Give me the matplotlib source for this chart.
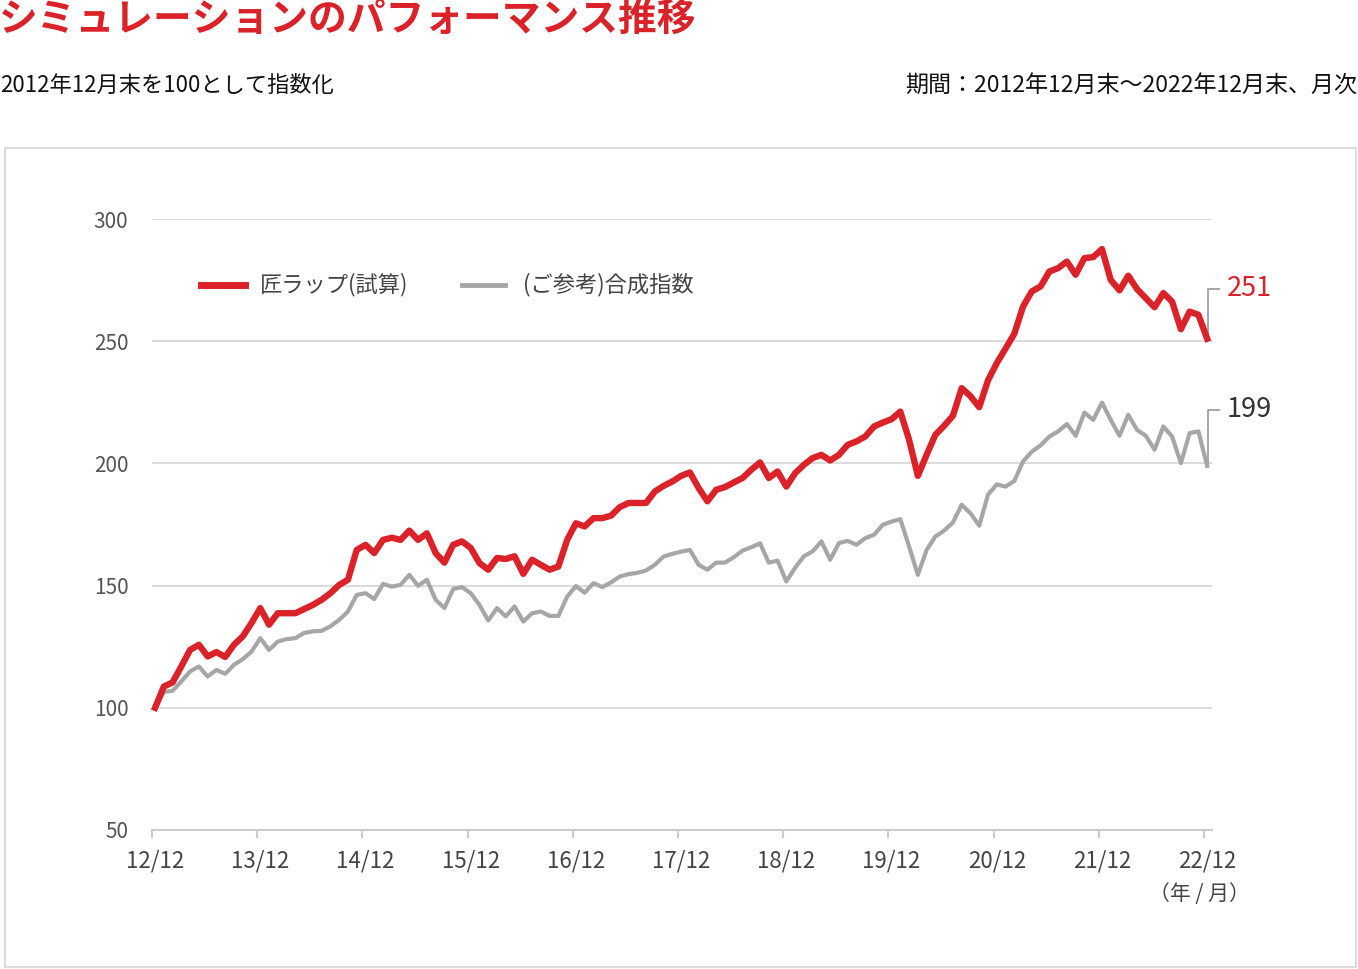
import matplotlib
matplotlib.use('Agg')
import matplotlib.pyplot as plt
from matplotlib.lines import Line2D
from matplotlib.patches import Rectangle
import numpy as np

# ---------------- data ----------------
title = "シミュレーションのパフォーマンス推移"
subtitle_left = "2012年12月末を100として指数化"
subtitle_right = "期間：2012年12月末〜2022年12月末、月次"
series_names = ["匠ラップ(試算)", "(ご参考)合成指数"]
x_tick_labels = ["12/12", "13/12", "14/12", "15/12", "16/12", "17/12",
                 "18/12", "19/12", "20/12", "21/12", "22/12"]
x_unit_label = "（年 / 月）"
y_ticks = [50, 100, 150, 200, 250, 300]

# monthly index values, 2012/12 .. 2022/12
takumi = [
    100, 108.7, 110.4, 117, 123.7, 125.8, 121, 122.8, 120.8, 125.8,
    129.2, 134.7, 140.8, 134, 138.7, 138.7, 138.7, 140.4, 142.1, 144.2,
    146.9, 150.3, 152.4, 164.6, 166.7, 163.3, 168.7, 169.6, 168.7, 172.5,
    168.7, 171.4, 163.3, 159.4, 166.7, 168.1, 165.4, 159.2, 156.5, 161.3,
    160.9, 162, 154.8, 160.6, 158.5, 156.5, 157.8, 168.7, 175.5, 174.2,
    177.6, 177.6, 178.6, 182.1, 183.8, 183.8, 183.8, 188.5, 190.8, 192.6,
    194.9, 196.3, 189.9, 184.5, 189.2, 190.3, 192.2, 194, 197.4, 200.4,
    194, 196.7, 190.5, 196, 199.4, 202.2, 203.5, 201.2, 203.5, 207.6,
    209, 211, 215.1, 216.7, 218.1, 221.2, 209.7, 194.9, 203.5, 211.7,
    215.4, 219.5, 230.8, 227.5, 223, 234, 241, 247, 253, 264.2,
    270.4, 272.4, 278.5, 279.9, 282.6, 277.2, 284, 284.4, 287.7, 275.1,
    270.8, 276.8, 271.3, 267.6, 263.9, 269.7, 266.2, 254.9, 262.1, 260.8,
    251]

composite = [
    100, 106.5, 107, 110.8, 114.9, 116.9, 112.8, 115.5, 113.9, 117.6,
    119.9, 123, 128.5, 123.7, 127.1, 128.1, 128.5, 130.6, 131.3, 131.5,
    133.3, 136, 139.4, 146.2, 146.9, 144.5, 150.7, 149.6, 150.3, 154.4,
    149.9, 152.4, 144.2, 140.8, 148.6, 149.4, 146.9, 142.1, 135.7, 140.8,
    137.4, 141.5, 135.3, 138.7, 139.4, 137.6, 137.6, 145.5, 149.8, 147.1,
    151, 149.4, 151.3, 153.7, 154.7, 155.2, 156.2, 158.5, 161.9, 163,
    163.9, 164.6, 158.5, 156.5, 159.4, 159.4, 161.6, 164.3, 165.7, 167.3,
    159.4, 160.2, 151.7, 157.3, 162, 164, 168.1, 160.6, 167.4, 168.3,
    166.7, 169.4, 170.8, 174.9, 176.2, 177.2, 166, 154.4, 164.6, 170.1,
    172.5, 175.8, 183.1, 179.6, 174.5, 187.2, 191.4, 190.5, 192.8, 200.8,
    204.8, 207.4, 211, 213.1, 216.1, 211.3, 220.8, 217.8, 224.9, 217.8,
    211.3, 219.9, 213.7, 211.3, 205.6, 215.1, 211, 200.1, 212.4, 213.1,
    199]

end_labels = ["251", "199"]

# ---------------- style ----------------
RED = '#db2229'
GRAY = '#a6a6a6'
plt.rcParams['font.family'] = ['Noto Sans CJK JP', 'DejaVu Sans']

W, H = 1358, 969
fig = plt.figure(figsize=(W / 100, H / 100), dpi=100)
fig.patch.set_facecolor('white')


def fx(px):
    return px / W


def fy(py):
    return 1 - py / H


# outer frame
fig.add_artist(Rectangle((fx(5), fy(967)), fx(1356) - fx(5), fy(148) - fy(967),
                         transform=fig.transFigure, fill=False,
                         ec='#dcdcdc', lw=1.5))

ax = fig.add_axes([fx(152), fy(830), fx(1212) - fx(152), fy(219) - fy(830)])
months = np.arange(len(takumi))
ax.set_xlim(-0.34, 120.55)
ax.set_ylim(50, 300)

for s in ['top', 'right', 'left']:
    ax.spines[s].set_visible(False)
ax.spines['bottom'].set_color('#cccccc')
ax.spines['bottom'].set_linewidth(1.5)

ax.set_yticks(y_ticks)
ax.set_yticklabels([str(v) for v in y_ticks])
ax.yaxis.grid(True, color='#d9d9d9', lw=1.3)
ax.set_axisbelow(True)
ax.tick_params(axis='y', length=0, pad=17, labelsize=15, labelcolor='#555555')

label_pos = [12 * k for k in range(len(x_tick_labels))]
ax.set_xticks(label_pos)
ax.set_xticklabels(x_tick_labels)
ax.set_xticks([p - 0.35 for p in label_pos], minor=True)
ax.tick_params(axis='x', which='major', length=0, pad=14, labelsize=16,
               labelcolor='#444444')
ax.tick_params(axis='x', which='minor', length=6, width=1.5, color='#cccccc',
               direction='out')

ax.plot(months, composite, color=GRAY, lw=3.0, solid_joinstyle='round',
        zorder=3, clip_on=False)
ax.plot(months, takumi, color=RED, lw=4.6, solid_joinstyle='round',
        zorder=4, clip_on=False)

# end-value brackets and labels
x_end = months[-1] + 0.07
for vals, txt, col, off in [(takumi, end_labels[0], RED, 20.5),
                            (composite, end_labels[1], '#333333', 23.0)]:
    v = vals[-1]
    ax.plot([x_end, x_end, x_end + 1.25], [v, v + off, v + off],
            color='#a0a0a0', lw=1.3, clip_on=False, zorder=2)
    ax.text(x_end + 2.2, v + off, txt, color=col, fontsize=19.5,
            va='center', ha='left')

# legend (manual)
fig.add_artist(Line2D([fx(201), fx(245)], [fy(285), fy(285)], color=RED,
                      lw=5, transform=fig.transFigure))
fig.text(fx(260), fy(285), series_names[0], fontsize=16, color='#444444',
         va='center', ha='left')
fig.add_artist(Line2D([fx(462), fx(505)], [fy(285), fy(285)], color=GRAY,
                      lw=3.5, transform=fig.transFigure))
fig.text(fx(523), fy(285), series_names[1], fontsize=16, color='#444444',
         va='center', ha='left')

# unit label
fig.text(fx(1250), fy(894), x_unit_label, fontsize=15, color='#444444',
         va='center', ha='right')

# titles
fig.text(fx(-1), fy(19), title, fontsize=27.9, fontweight='bold', color=RED,
         va='center', ha='left')
fig.text(fx(0), fy(85), subtitle_left, fontsize=16, color='#111111',
         va='center', ha='left')
fig.text(fx(1357), fy(85), subtitle_right, fontsize=16.6, color='#111111',
         va='center', ha='right')

fig.savefig('out.png', dpi=100, facecolor='white')
